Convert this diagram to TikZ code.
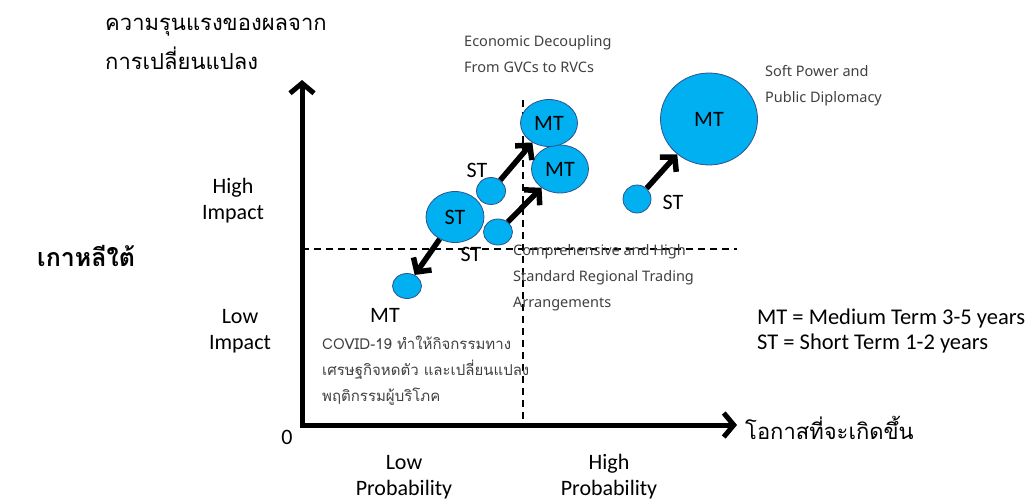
\documentclass[tikz,border=0pt]{standalone}
\usepackage{fontspec}
\setmainfont{Carlito}
\newfontfamily\thaifont[Script=Thai]{Loma}
\newfontfamily\notefont{Noto Sans}
\usetikzlibrary{calc,arrows.meta,shapes.geometric,positioning}
\definecolor{bubblue}{RGB}{0,176,240}
\definecolor{bubedge}{RGB}{47,82,143}
\definecolor{notegray}{RGB}{64,64,64}
\tikzset{
  bub/.style={ellipse, draw=bubedge, fill=bubblue, inner sep=0pt, line width=0.8pt, font=\fontsize{22}{26}\selectfont},
  move/.style={line width=5.5pt, -{Straight Barb[length=10pt,width=22pt]}},
  axis/.style={line width=5pt, -{Straight Barb[length=10pt,width=24pt]}},
  guide/.style={line width=1.3pt, dash pattern=on 7pt off 5pt},
  lbl/.style={font=\fontsize{22}{26}\selectfont, align=center, inner sep=0pt},
  note/.style={font=\notefont\fontsize{14.5}{26}\selectfont, text=notegray, align=left, inner sep=0pt, anchor=base west},
  thnote/.style={font=\thaifont\fontsize{15}{26}\selectfont, text=notegray, align=left, inner sep=0pt, anchor=base west},
}

\begin{document}
\begin{tikzpicture}[x=1pt, y=-1pt]
\useasboundingbox (0,0) rectangle (1030,503);
% axes and quadrant lines
\coordinate (o) at (302,425);
\coordinate (ytip) at (302,80);
\coordinate (xtip) at (737,425);
\coordinate (hl) at (302,249);
\coordinate (hr) at (737,249);
\coordinate (vt) at (523,100);
\coordinate (vb) at (523,425);
\draw[guide] (hl) -- (hr);
\draw[guide] (vt) -- (vb);
\draw[axis] ($(o)+(0,2.5)$) -- (ytip);
\draw[axis] ($(o)+(-2.5,0)$) -- (xtip);

% bubbles
\node[bub, minimum width=57pt, minimum height=48pt] (mtb) at (560,169) {MT};
\node[bub, minimum width=57pt, minimum height=47pt] (mta) at (549,123) {MT};
\node[bub, minimum width=29pt, minimum height=27pt] (sta) at (491,191) {};
\node[bub, minimum width=58pt, minimum height=51pt] (stbig) at (455,217) {ST};
\node[bub, minimum width=29pt, minimum height=26pt] (stb) at (498,232) {};
\node[bub, minimum width=29pt, minimum height=25pt] (covid) at (407,286) {};
\node[bub, minimum width=97pt, minimum height=92pt] (mtsoft) at (709,119) {MT};
\node[bub, minimum width=28pt, minimum height=28pt] (stsoft) at (637,199) {};

% moves
\draw[move] (sta) -- (mta);
\draw[move] (stb) -- (mtb);
\draw[move] (stbig) -- (covid);
\draw[move] (stsoft) -- (mtsoft);

% small labels
\node[lbl] (la) at (477,170) {ST};
\node[lbl] (lb) at (471,254) {ST};
\node[lbl] (lc) at (385,315) {MT};
\node[lbl] (ld) at (673,202) {ST};

% axis texts
\node[lbl] (hi) at (233,201) {High\\Impact};
\node[lbl] (lo) at (240,331) {Low\\Impact};
\node[lbl] (zero) at (287,437) {0};
\node[lbl] (lp) at (404,477) {Low\\Probability};
\node[lbl] (hp) at (609,477) {High\\Probability};
\node[anchor=base west, inner sep=0pt, font=\thaifont\fontsize{22}{39}\selectfont, align=left] (ytitle) at (105,70) {ความรุนแรงของผลจาก\\การเปลี่ยนแปลง};
\node[anchor=base west, inner sep=0pt, font=\thaifont\bfseries\fontsize{25}{30}\selectfont] (korea) at (37,266) {เกาหลีใต้};
\node[anchor=base west, inner sep=0pt, font=\thaifont\fontsize{22}{30}\selectfont] (xtitle) at (745,439) {โอกาสที่จะเกิดขึ้น};

% issues
\node[note] (decouple) at (464,73) {Economic Decoupling\\From GVCs to RVCs};
\node[note] (soft) at (765,102) {Soft Power and\\Public Diplomacy};
\node[note] (rta) at (513,307) {Comprehensive and High\\Standard Regional Trading\\Arrangements};
\node[thnote] (covidtxt) at (322,401) {COVID-19 ทำให้กิจกรรมทาง\\เศรษฐกิจหดตัว และเปลี่ยนแปลง\\พฤติกรรมผู้บริโภค};

% legend
\node[lbl, align=left, anchor=west, font=\fontsize{22.5}{25}\selectfont] (legend) at (757,331) {MT = Medium Term 3-5 years\\ST = Short Term 1-2 years};
\end{tikzpicture}
\end{document}
